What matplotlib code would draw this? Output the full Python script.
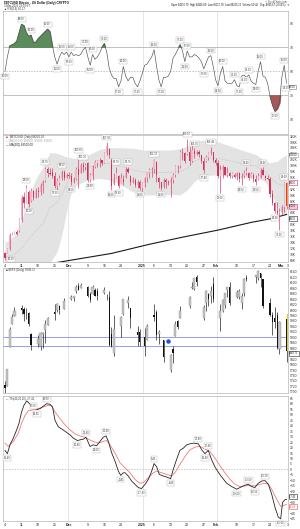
import matplotlib
matplotlib.use("Agg")
import matplotlib.pyplot as plt
import matplotlib.transforms as mtrans
import numpy as np

plt.rcParams['font.family'] = ['Liberation Sans', 'DejaVu Sans']

# day 0 = 4 Nov 2024, one point per calendar day up to 3 Mar 2025
days = np.arange(120)

# Bitcoin daily bars (thousands of USD)
btc_open = [70.5, 70.6, 71.8, 76.6, 77.0, 77.6, 77.8, 81.5, 89.5, 87.5,
            91.0, 88.0, 91.5, 89.2, 91.5, 91.0, 93.2, 94.8, 98.8, 97.5,
            98.0, 96.5, 93.0, 94.0, 96.0, 98.0, 96.0, 97.0, 96.5, 94.5,
            95.5, 99.0, 97.6, 100.4, 99.5, 100.8, 95.2, 96.5, 99.5, 101.0,
            101.5, 101.8, 101.0, 104.2, 105.5, 102.0, 93.8, 96.0, 96.5, 94.2,
            95.5, 96.0, 99.0, 96.5, 94.5, 95.0, 93.5, 94.5, 92.5, 94.0,
            95.8, 97.6, 98.5, 98.8, 101.4, 96.0, 94.5, 92.8, 95.0, 94.5,
            94.0, 95.0, 96.8, 99.5, 99.8, 104.5, 104.4, 104.0, 104.8, 101.5,
            105.0, 104.0, 104.8, 103.5, 101.5, 101.5, 102.5, 104.2, 104.5, 102.0,
            100.8, 96.5, 98.5, 99.5, 97.0, 97.5, 96.5, 97.0, 96.5, 97.5,
            95.5, 96.5, 97.5, 97.5, 96.0, 97.0, 95.5, 95.5, 96.0, 98.5,
            96.5, 95.8, 95.5, 90.5, 87.5, 84.5, 84.0, 84.3, 86.0, 94.2]
btc_high = [70.9, 72.0, 77.1, 77.7, 77.9, 78.2, 82.2, 90.1, 91.2, 93.5,
            91.8, 92.3, 91.8, 92.3, 92.9, 94.0, 95.2, 99.7, 99.7, 99.1,
            99.1, 98.0, 95.7, 96.8, 98.5, 98.5, 97.4, 98.0, 97.4, 96.3,
            99.7, 103.6, 100.8, 101.3, 100.8, 101.3, 97.4, 100.2, 101.9, 101.9,
            102.5, 101.9, 104.7, 107.9, 105.9, 102.5, 97.4, 99.7, 96.8, 97.4,
            96.8, 99.7, 99.7, 96.8, 96.3, 95.7, 95.2, 95.2, 94.6, 96.3,
            98.0, 99.1, 99.7, 102.3, 101.6, 96.3, 94.6, 95.7, 95.7, 95.2,
            96.3, 97.4, 100.2, 100.2, 105.3, 105.9, 104.7, 109.0, 106.4, 107.0,
            105.9, 105.3, 105.3, 103.6, 102.5, 103.6, 104.7, 106.4, 104.7, 102.5,
            101.9, 100.2, 100.2, 99.7, 99.7, 98.0, 98.0, 97.4, 98.0, 98.0,
            97.4, 98.5, 99.4, 98.0, 98.0, 97.4, 96.8, 97.4, 99.1, 99.4,
            96.8, 96.8, 96.3, 91.8, 87.8, 87.8, 85.6, 86.7, 94.6, 94.6]
btc_low = [68.1, 70.4, 71.5, 76.6, 76.8, 76.6, 77.7, 81.1, 85.6, 87.3,
           86.1, 87.8, 88.4, 89.0, 89.5, 90.1, 90.6, 94.6, 96.3, 96.8,
           95.7, 92.3, 90.6, 93.5, 95.2, 95.2, 95.7, 95.7, 93.5, 94.0,
           95.2, 92.3, 97.4, 98.0, 98.5, 94.6, 94.6, 95.2, 99.1, 99.7,
           99.7, 100.2, 100.8, 103.6, 102.5, 91.8, 93.5, 95.7, 92.3, 94.0,
           93.5, 95.7, 97.4, 93.5, 94.0, 92.9, 92.3, 91.8, 91.2, 92.9,
           94.6, 95.7, 96.3, 97.4, 94.6, 92.3, 91.8, 92.3, 92.3, 93.5,
           89.5, 94.0, 96.3, 97.4, 99.1, 101.9, 100.8, 103.6, 100.2, 101.3,
           102.5, 103.6, 103.0, 100.8, 97.4, 101.3, 101.9, 103.6, 101.3, 100.2,
           95.7, 90.6, 95.7, 96.8, 96.3, 95.7, 95.7, 95.7, 95.2, 94.6,
           93.5, 95.7, 96.8, 95.2, 95.7, 94.6, 93.5, 95.2, 95.7, 96.8,
           95.2, 95.2, 89.5, 86.7, 83.9, 82.8, 78.2, 83.3, 84.4, 85.5]
btc_close = [68.8, 71.8, 76.5, 77.3, 77.5, 77.0, 81.8, 89.0, 87.5, 92.5,
             87.0, 91.5, 89.0, 91.5, 91.0, 93.5, 94.8, 98.8, 97.5, 97.2,
             96.5, 93.0, 94.8, 96.0, 98.0, 96.0, 97.0, 96.5, 94.5, 95.5,
             99.0, 97.0, 100.4, 99.5, 100.2, 95.2, 96.8, 99.8, 101.4, 101.5,
             101.8, 100.8, 104.2, 106.8, 103.5, 93.0, 96.0, 97.5, 93.0, 95.8,
             94.5, 99.0, 98.0, 94.5, 95.0, 93.5, 94.5, 92.5, 94.0, 95.8,
             97.6, 98.5, 98.8, 101.8, 96.8, 94.5, 92.5, 95.0, 94.5, 94.0,
             95.0, 96.8, 99.8, 99.8, 104.5, 104.4, 101.5, 104.8, 101.5, 105.2,
             104.0, 104.8, 103.8, 101.5, 98.5, 103.0, 104.2, 105.0, 102.0, 100.8,
             96.5, 98.5, 99.5, 97.0, 97.5, 96.5, 97.5, 96.2, 97.5, 95.5,
             96.5, 97.5, 98.2, 96.0, 97.2, 95.5, 94.5, 96.5, 98.5, 97.0,
             95.8, 95.5, 90.5, 87.5, 84.5, 84.0, 84.3, 86.0, 94.2, 86.2]

# Bollinger bands (20, 2) and 200-day average, read at these days
bb_days = [0, 2, 4, 6, 8, 10, 13, 16, 19, 22, 24, 26, 28, 30, 35, 40, 44, 49, 54, 59,
           62, 66, 70, 74, 77, 80, 84, 90, 94, 100, 106, 110, 112, 115, 117, 119]
bb_upper = [74.0, 75.0, 76.5, 79.5, 84.0, 89.5, 95.5, 99.5, 104.5, 104.2, 103.6, 103.0,
            102.7, 102.5, 103.6, 105.5, 106.1, 106.1, 105.9, 105.3, 105.3, 105.3, 105.3,
            105.8, 106.6, 108.3, 108.7, 108.1, 107.0, 105.3, 103.8, 101.6, 101.0, 101.5,
            102.8, 103.6]
bb_lower = [64.5, 64.0, 63.5, 63.0, 62.0, 61.0, 60.0, 61.0, 67.0, 70.9, 76.5, 84.4,
            91.0, 93.3, 95.2, 95.7, 95.2, 93.5, 91.2, 90.1, 90.1, 90.1, 90.3, 90.1,
            91.8, 94.6, 96.8, 96.8, 96.6, 96.3, 95.9, 94.6, 91.6, 86.3, 84.0, 83.3]
bb_mid = [69.3, 69.5, 70.0, 71.3, 73.0, 75.3, 77.8, 80.3, 85.8, 87.6, 90.1, 93.7,
          96.9, 97.9, 99.4, 100.6, 100.7, 99.8, 98.6, 97.7, 97.7, 97.7, 97.8, 98.0,
          99.2, 101.5, 102.8, 102.5, 101.8, 100.8, 99.9, 98.1, 96.3, 93.9, 93.4, 93.5]
ma_days = [0, 15, 30, 45, 61, 75, 90, 104, 112, 119]
ma200 = [64.5, 66.3, 68.3, 70.3, 73.4, 75.8, 78.2, 80.8, 82.0, 83.5]

# RSI(14) of Bitcoin, daily
rsi = [50, 62, 71, 72, 73, 75, 82, 89, 88, 82, 79, 80, 74, 74, 77, 79, 81, 83, 85, 83,
       72, 62, 56, 62, 66, 64, 66, 62, 66, 63, 64, 63, 64, 68, 70, 62, 55, 64, 60, 62,
       65, 70, 73, 66, 53, 47, 44, 44, 37, 42, 54, 46, 42, 45, 45, 40, 37, 42, 48, 55,
       56, 59, 62, 68, 55, 43, 37, 45, 45, 46, 50, 61, 64, 68, 72, 67, 58, 67, 62, 62,
       64, 63, 61, 58, 52, 57, 62, 63, 54, 43, 38, 48, 54, 42, 40, 40, 40, 43, 38, 37,
       46, 47, 45, 47, 42, 40, 39, 50, 58, 46, 45, 40, 29, 22, 17, 19, 24, 45, 55, 40]
rsi_hi = [7, 11, 18, 24, 28, 34, 37, 42, 50, 63, 74, 77, 87, 92, 97, 103, 108, 118]
rsi_lo = [0, 22, 27, 36, 48, 56, 66, 76, 84, 90, 99, 101, 106, 114, 119]

# S&P 500 daily bars (trading days only)
spx_days = [0, 1, 2, 3, 4, 7, 8, 9, 10, 11, 14, 15, 16, 17, 18, 21, 22, 23, 25,
            28, 29, 30, 31, 32, 35, 36, 37, 38, 39, 42, 43, 44, 45, 46, 49, 50, 52, 53,
            56, 57, 59, 60, 63, 64, 65, 67, 70, 71, 72, 73, 74, 78, 79, 80, 81,
            84, 85, 86, 87, 88, 91, 92, 93, 94, 95, 98, 99, 100, 101, 102,
            106, 107, 108, 109, 112, 113, 114, 115, 116, 119]
spx_open = [5725, 5722, 5865, 5947, 5977, 6009, 6004, 5986, 5990, 5913, 5874, 5870, 5914,
            5928, 5944, 5992, 6000, 6014, 6004, 6040, 6043, 6069, 6089, 6081, 6083, 6058,
            6060, 6074, 6068, 6064, 6053, 6048, 5913, 5842, 5940, 5985, 6025, 6006, 5921,
            5920, 5903, 5891, 5983, 5993, 5911, 5891, 5782, 5859, 5905, 5961, 5969, 6014,
            6081, 6076, 6121, 5969, 6027, 6058, 6051, 6097, 5970, 5998, 6020, 6072, 6083,
            6046, 6049, 6025, 6061, 6116, 6122, 6118, 6135, 6114, 6027, 5983, 5971, 5982,
            5857, 5968]
spx_high = [5741, 5783, 5936, 5984, 6012, 6017, 6010, 6008, 5994, 5915, 5909, 5921, 5921,
            5963, 5973, 6021, 6025, 6020, 6044, 6054, 6052, 6090, 6100, 6100, 6089, 6065,
            6093, 6080, 6079, 6085, 6058, 6071, 5936, 5982, 5978, 6040, 6050, 6006, 5941,
            5930, 5935, 5949, 6021, 6001, 5928, 5891, 5839, 5870, 5961, 5965, 6015, 6052,
            6101, 6119, 6128, 6017, 6075, 6063, 6087, 6121, 6022, 6042, 6063, 6084, 6101,
            6073, 6076, 6063, 6117, 6127, 6130, 6147, 6135, 6115, 6044, 5993, 6010, 5994,
            5959, 5986]
spx_low = [5697, 5722, 5865, 5947, 5977, 5987, 5960, 5966, 5942, 5853, 5866, 5855, 5860,
           5878, 5944, 5964, 5992, 5985, 6004, 6035, 6033, 6061, 6072, 6080, 6049, 6030,
           6060, 6051, 6036, 6059, 6035, 5868, 5866, 5832, 5903, 5981, 6007, 5933, 5869,
           5869, 5830, 5889, 5960, 5891, 5875, 5809, 5773, 5805, 5905, 5931, 5969, 6007,
           6076, 6075, 6089, 5963, 5995, 6013, 6027, 6031, 5924, 5991, 6007, 6047, 6020,
           6045, 6042, 6003, 6051, 6108, 6100, 6111, 6085, 6009, 5978, 5908, 5933, 5859,
           5838, 5811]
spx_close = [5713, 5783, 5929, 5973, 5996, 6001, 5984, 5985, 5949, 5871, 5894, 5917, 5917,
             5949, 5969, 5987, 6022, 5999, 6032, 6047, 6050, 6086, 6075, 6090, 6053, 6035,
             6084, 6051, 6051, 6074, 6051, 5872, 5867, 5931, 5974, 6040, 6038, 5971, 5907,
             5882, 5869, 5942, 5975, 5909, 5918, 5827, 5836, 5843, 5950, 5937, 5997, 6049,
             6086, 6119, 6101, 6012, 6068, 6039, 6071, 6041, 5995, 6038, 6061, 6084, 6026,
             6066, 6069, 6052, 6115, 6115, 6130, 6144, 6118, 6013, 5983, 5955, 5956, 5862,
             5955, 5850]
spx_levels = [5903, 5870]
spx_dot = (69, 5886)

# TSI line and its signal line, read at these days
tsi_days = [0, 1, 2.1, 3.5, 4.9, 5.9, 7.0, 8.0, 9.2, 10.6, 12.0, 13.4, 14.8, 16.2, 17.6,
            19.0, 20.1, 21.1, 22.5, 24.6, 27.5, 28.9, 30.6, 31.7, 33.1, 34.2, 35.2, 35.9,
            37.3, 38.7, 40.1, 41.5, 42.7, 43.7, 45.1, 46.5, 47.9, 48.9, 50.0, 50.7, 52.1,
            53.5, 54.9, 56.3, 57.7, 59.2, 60.6, 62.0, 63.0, 64.1, 65.2, 66.9, 68.3, 70.0,
            71.1, 72.5, 73.9, 75.4, 76.8, 78.2, 79.6, 81.7, 83.1, 84.5, 85.9, 87.3, 88.7,
            90.1, 91.5, 93.7, 95.8, 97.9, 99.3, 101.4, 102.8, 104.2, 105.6, 107.0, 108.5,
            109.9, 111.3, 112.7, 114.1, 115.5, 116.5, 117.3, 118.3, 119.0]
tsi_vals = [17.4, 14.4, 22.5, 28.5, 36, 42, 52.5, 58.5, 62.5, 59.5, 57, 54.6, 55.5, 57.7,
            60, 59.4, 57, 45, 39, 36, 31.5, 28.5, 26.4, 27, 27.6, 29.4, 24.6, 21, 22.5,
            21.6, 25.5, 29.4, 30.6, 25.5, 15, 7.5, -1.5, -5.4, -3, -3, -6, -10.5, -13.5,
            -16.5, -17.4, -13.5, -9, -1.5, 5.4, 2.4, -4.5, -6, -6.9, -8.4, 0, 9, 17.4,
            19.5, 22.5, 23.4, 24, 23.4, 18, 14.4, 17.4, 9, 2.4, -2.4, -6.6, -12.6, -15.6,
            -18, -16.5, -14.4, -13.5, -15.6, -16.5, -12.6, -10.5, -10.2, -13.5, -22.5,
            -34.5, -43.5, -45, -30, -27.6, -27.4]
sig_days = [0, 1.4, 3.5, 5.6, 7.0, 8.5, 9.9, 12.0, 14.1, 16.2, 18.3, 19.7, 21.1, 23.2,
            25.4, 27.5, 29.6, 31.7, 33.8, 35.2, 37.3, 39.4, 41.5, 42.9, 44.4, 46.5, 48.6,
            50.7, 52.8, 54.9, 57.0, 58.5, 60.6, 62.7, 64.1, 66.2, 68.3, 70.4, 71.8, 73.9,
            76.1, 78.2, 80.3, 82.4, 84.5, 86.6, 88.7, 90.8, 92.9, 95.1, 97.2, 99.3, 101.4,
            103.5, 105.6, 107.7, 109.9, 111.3, 112.7, 114.8, 116.5, 117.6, 119.0]
sig_vals = [24, 21, 25.5, 33, 42, 49.5, 53.5, 54.6, 55.5, 57, 58.5, 58, 52.5, 46.5, 40.5,
            36, 32.4, 30.6, 29.4, 27.6, 25.5, 24, 25.5, 26.4, 22.5, 15, 6, 1.5, -3, -9,
            -12.6, -12, -7.5, -3, -1.5, -3, -4.5, -6, -3, 4.5, 12, 18, 20.4, 21, 18.6,
            16.5, 10.5, 3.6, -3, -9, -13.5, -15.6, -15, -14.4, -15, -13.5, -12.6, -13.5,
            -18, -27, -33.6, -33, -31.6]
tsi_hi = [14, 25, 32, 48, 61, 64, 74, 79]
tsi_lo = [1, 11, 22, 29, 37, 44, 53, 63, 71, 76, 84]
tsi_top = 8

# x axis labels
tick_days = [0, 7, 14, 21, 27, 35, 42, 49, 58, 63, 70, 77, 84, 89, 98, 105, 112, 116.5, 119.5]
tick_labels = ['4', '11', '18', '25', 'Dec', '9', '16', '23', '2025', '6', '13', '20', '27',
               'Feb', '10', '17', '24', 'Mar', '3']
month_lines = [26.6, 58.2, 89.6]

W, H = 300, 529
fig = plt.figure(figsize=(W / 100, H / 100), dpi=100)
fig.patch.set_facecolor('white')


def panel(top, bottom):
    ax = fig.add_axes([3 / W, 1 - bottom / H, 285 / W, (bottom - top) / H])
    ax.set_xlim(-0.85, 119.6)
    for s in ax.spines.values():
        s.set_color('#b5b5b5')
        s.set_linewidth(0.5)
    ax.yaxis.tick_right()
    ax.tick_params(axis='y', length=0, labelsize=2.4, pad=1.3, colors='#333333')
    ax.tick_params(axis='x', length=0, labelsize=2.5, pad=1.2, colors='#222222')
    for m in month_lines:
        ax.axvline(m, color='#dcdcdc', lw=0.5, zorder=0)
    ax.set_xticks([])
    return ax


def tag(ax, x, y, text, va, color='#444444', ha='center'):
    ax.text(x, y, text, fontsize=1.9, color=color, ha=ha, va=va, zorder=6,
            bbox=dict(boxstyle='square,pad=0.25', fc='white', ec='#b0b0b0', lw=0.3))


def right_tag(ax, y, text, ec, fc='white', tc='#222222'):
    tr = mtrans.blended_transform_factory(ax.transAxes, ax.transData)
    ax.text(1.004, y, text, transform=tr, fontsize=1.8, color=tc, ha='left', va='center',
            zorder=7, clip_on=False,
            bbox=dict(boxstyle='square,pad=0.15', fc=fc, ec=ec, lw=0.4))


def date_ticks(ax):
    ax.set_xticks(tick_days)
    ax.set_xticklabels(tick_labels)
    for lab in ax.get_xticklabels():
        if lab.get_text() in ('Dec', 'Feb', 'Mar', '2025'):
            lab.set_fontweight('bold')


# header
fig.text(4 / W, 1 - 2.6 / H, '$BTCUSD Bitcoin - US Dollar (Daily) CRYPTO', fontsize=2.2,
         va='center', ha='left', color='#111111', fontweight='bold')
fig.text(4 / W, 1 - 5.8 / H, '3-Mar-2025 23:59 ET', fontsize=2.0, va='center', color='#333333')
fig.text(4 / W, 1 - 9.0 / H, '\u25b2 RSI(14) 40.17', fontsize=2.0, va='center', color='#333333')
fig.text(287 / W, 1 - 1.6 / H, '\u00a9 StockCharts.com', fontsize=1.8, va='center', ha='right',
         color='#555555')
fig.text(285 / W, 1 - 5.2 / H,
         'Open 94270.79  High 94416.00  Low 85117.78  Last 86205.12  Volume 60.4K  Chg -8065.67 (-8.55%)',
         fontsize=1.85, va='center', ha='right', color='#111111')
fig.text(286.5 / W, 1 - 5.2 / H, '\u25bc', fontsize=1.8, va='center', ha='left', color='#d02020')

# ---- panel 1: RSI ----
ax1 = panel(11, 134)
r = np.array(rsi, dtype=float)
ax1.plot(days, r, color='#505050', lw=0.45, zorder=3)
ax1.fill_between(days, r, 70, where=r >= 70, interpolate=True, color='#5d8c5c', zorder=2)
ax1.fill_between(days, r, 30, where=r <= 30, interpolate=True, color='#a65a58', zorder=2)
ax1.axhline(70, color='#a8a8a8', lw=0.5, zorder=1)
ax1.axhline(30, color='#a8a8a8', lw=0.5, zorder=1)
ax1.axhline(50, color='#a8a8a8', lw=0.5, ls=(0, (2, 2)), zorder=1)
ax1.set_ylim(-2.25, 100.25)
ax1.set_yticks([10, 30, 50, 70, 90])
for i in rsi_hi:
    tag(ax1, days[i], r[i] + 2.5, '%.2f' % r[i], 'bottom')
for i in rsi_lo:
    tag(ax1, days[i], r[i] - 2.5, '%.2f' % r[i], 'top')
right_tag(ax1, r[-1] - 3, '%.2f' % r[-1], '#777777')

# ---- panel 2: Bitcoin with Bollinger bands and MA(200) ----
ax2 = panel(135, 262)
ax2.fill_between(bb_days, bb_lower, bb_upper, color='#e3e3e3', lw=0, zorder=1)
ax2.plot(bb_days, bb_mid, color='#cbcbcb', lw=0.4, zorder=1.5)
ax2.plot(ma_days, ma200, color='#1a1a1a', lw=0.8, zorder=2)
o, hi, lo, c = map(np.array, (btc_open, btc_high, btc_low, btc_close))
up = c >= o
ax2.vlines(days, lo, hi, color='#d3305c', lw=0.45, zorder=3)
body = np.maximum(np.abs(c - o), 0.25)
ax2.bar(days, body, bottom=np.minimum(o, c), width=0.5,
        color=np.where(up, '#f5b5c5', '#d3305c'), lw=0, zorder=4)
ax2.vlines(119.45, c[-1], o[-1], color='#f5a220', lw=1.6, zorder=5)
ax2.set_ylim(67.4, 110.4)
yt = np.arange(68, 111, 2)
ax2.set_yticks(yt)
ax2.set_yticklabels(['%dK' % v for v in yt])
for i in [9, 17, 24, 31, 33, 43, 47, 52, 63, 77, 80, 87, 102, 109, 118]:
    tag(ax2, days[i], hi[i] + 0.9, '%.2f' % hi[i], 'bottom')
for i in [10, 21, 28, 36, 45, 48, 57, 66, 84, 91, 100, 106, 114, 116]:
    tag(ax2, days[i], lo[i] - 0.9, '%.2f' % lo[i], 'top')
tag(ax2, days[0] + 2.6, lo[0] + 0.2, '%.2f' % lo[0], 'center')
ax2.text(0.5, 109.6, '\u25a0', color='#d3305c', fontsize=2.2, va='center')
ax2.text(2.0, 109.6, '$BTCUSD (Daily) %.2f' % (c[-1] * 1000), color='#333333', fontsize=2.0,
         va='center')
ax2.text(0.5, 108.3, '\u2014 BB(20,2.0) %.0f, %.0f, %.0f' % (bb_upper[-1] * 1000, bb_mid[-1] * 1000,
         bb_lower[-1] * 1000), color='#9a9a9a', fontsize=2.0, va='center')
ax2.text(0.5, 107.0, '\u2014 MA(200) %.2f' % (ma200[-1] * 1000), color='#111111', fontsize=2.0,
         va='center')
right_tag(ax2, bb_upper[-1], '%.0f' % (bb_upper[-1] * 1000), '#999999')
right_tag(ax2, hi[-1] - 0.4, '%.0f' % (hi[-1] * 1000), '#d3305c')
right_tag(ax2, c[-1], '%.0f' % (c[-1] * 1000), '#d3305c', fc='#f7c6d2')
right_tag(ax2, ma200[-1] - 1.4, '%.0f' % (ma200[-1] * 1000), '#222222')
date_ticks(ax2)

# ---- panel 3: S&P 500 ----
ax3 = panel(268, 393)
so, sh, sl, sc = map(np.array, (spx_open, spx_high, spx_low, spx_close))
sd = np.array(spx_days)
sup = sc >= so
ax3.vlines(sd, sl, sh, color='#222222', lw=0.5, zorder=3)
ax3.bar(sd[sup], np.maximum(sc[sup] - so[sup], 2), bottom=so[sup], width=0.9, color='#c4c4c4',
        edgecolor='#8a8a8a', lw=0.25, zorder=4)
ax3.bar(sd[~sup], np.maximum(so[~sup] - sc[~sup], 2), bottom=sc[~sup], width=0.5,
        color='#111111', lw=0, zorder=4)
for lvl in spx_levels:
    ax3.axhline(lvl, color='#8c8cf5', lw=0.6, zorder=2)
ax3.plot([spx_dot[0]], [spx_dot[1]], 'o', color='#1f4fe0', ms=2.2, zorder=5)
ax3.vlines(119.45, sc[-1], sh[-1], color='#e4d800', lw=1.4, zorder=5)
ax3.set_ylim(5696, 6154)
st = np.arange(5700, 6141, 20)
ax3.set_yticks(st)
ax3.text(0.5, 6146, '\u25a0 $SPX (Daily) 5849.72', color='#333333', fontsize=2.0, va='center')
right_tag(ax3, sc[-1] - 8, '5849.72', '#222222')

# ---- panel 4: TSI ----
ax4 = panel(396, 521)
ax4.axhline(0, color='#b0b0b0', lw=0.5, ls=(0, (2, 2)), zorder=1)
ax4.plot(sig_days, sig_vals, color='#f07a78', lw=0.6, zorder=2)
ax4.plot(tsi_days, tsi_vals, color='#262626', lw=0.6, zorder=3)
for i in tsi_hi:
    tag(ax4, tsi_days[i], tsi_vals[i] + 2.2, '%.2f' % tsi_vals[i], 'bottom')
for i in tsi_lo:
    tag(ax4, tsi_days[i], tsi_vals[i] - 2.2, '%.2f' % tsi_vals[i], 'top')
tag(ax4, tsi_days[tsi_top] + 1.5, tsi_vals[tsi_top] - 4.5, '%.2f' % tsi_vals[tsi_top], 'center',
    ha='left')
ax4.set_ylim(-47, 67)
ax4.set_yticks(np.arange(-45, 66, 5))
ax4.text(0.5, 64.2, '\u2014 TSI(40,20,10) -27.41,', color='#333333', fontsize=1.9, va='center')
ax4.text(16.2, 64.2, '-31.62', color='#e05050', fontsize=1.9, va='center')
right_tag(ax4, tsi_vals[-1] + 2.5, '%.2f' % tsi_vals[-1], '#222222')
right_tag(ax4, sig_vals[-1] - 2.5, '%.2f' % sig_vals[-1], '#e05050', tc='#e05050')
date_ticks(ax4)

fig.savefig('out.png', dpi=100, facecolor='white')
